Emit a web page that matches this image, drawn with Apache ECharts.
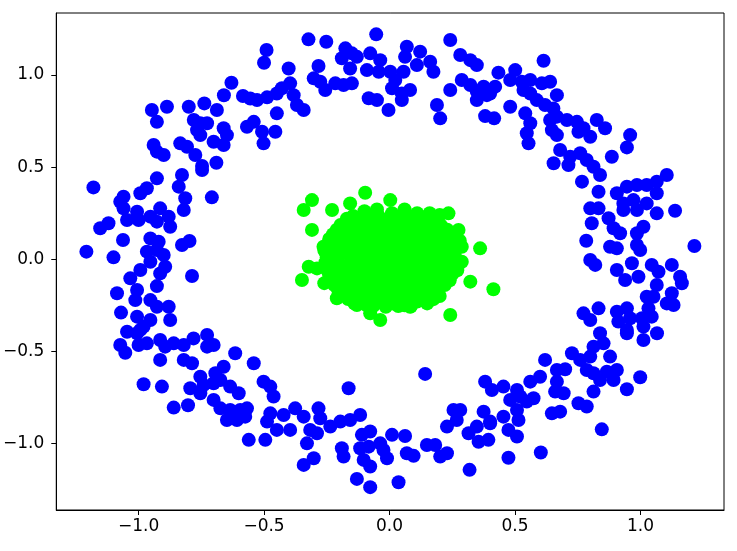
<!DOCTYPE html>
<html>
<head>
<meta charset="utf-8">
<script src="https://cdn.jsdelivr.net/npm/echarts@6/dist/echarts.min.js"></script>
<style>
  html, body { margin: 0; padding: 0; background: #fff; }
  #chart { width: 737px; height: 551px; }
</style>
</head>
<body>
<div id="chart"></div>
<script>
// tick positions on both axes
const xTicks = [-1.0, -0.5, 0.0, 0.5, 1.0];
const yTicks = [-1.0, -0.5, 0.0, 0.5, 1.0];

// outer ring (label 0)
const ringPoints = [
  // top left
  [-0.49,1.136],[-0.50,1.067],[-0.63,0.958],[-0.66,0.89],[-0.584,0.886],[-0.555,0.873],[-0.528,0.864],[-0.488,0.879],
  [-0.449,0.90],[-0.947,0.81],[-0.887,0.828],[-0.927,0.746],[-0.80,0.828],[-0.738,0.846],[-0.688,0.81],[-0.78,0.756],
  [-0.754,0.738],[-0.727,0.738],[-0.767,0.701],[-0.754,0.674],[-0.661,0.711],[-0.648,0.674],[-0.568,0.719],[-0.541,0.746],
  [-0.508,0.692],[-0.455,0.692],[-0.502,0.629],[-0.449,0.792],[-0.94,0.62],[-0.927,0.584],[-0.90,0.566],[-0.834,0.629],
  [-0.807,0.611],[-0.701,0.638],[-0.661,0.62],[-0.774,0.566],[-0.747,0.506],[-0.69,0.524],
  // top
  [-0.323,1.194],[-0.252,1.181],[-0.053,1.221],[0.242,1.19],[-0.402,1.036],[-0.283,1.049],[-0.176,1.145],[-0.19,1.091],
  [-0.15,1.118],[-0.13,1.099],[-0.157,1.036],[-0.077,1.118],[-0.037,1.081],[-0.09,1.027],[-0.043,1.018],[0.069,1.154],
  [0.062,1.099],[0.056,1.018],[0.122,1.127],[0.003,1.018],[0.109,1.054],[0.162,1.072],[0.175,1.018],[0.282,1.109],
  [0.322,1.081],[0.348,1.054],[-0.302,0.982],[-0.276,0.964],[-0.256,0.919],[-0.216,0.955],[-0.183,0.946],[-0.15,0.955],
  [-0.429,0.928],[-0.396,0.955],[-0.382,0.891],[-0.369,0.837],[-0.342,0.81],[-0.083,0.874],[-0.05,0.864],[-0.004,0.81],
  [0.01,0.928],[0.023,0.973],[0.049,0.90],[0.082,0.919],[0.049,0.864],[0.189,0.837],[0.202,0.765],[0.242,0.919],
  [0.288,0.973],[0.322,0.946],[0.348,0.91],[0.375,0.937],[0.348,0.864],[0.388,0.891],[0.381,0.777],
  // top right
  [0.614,1.078],[0.434,1.013],[0.421,0.937],[0.401,0.90],[0.501,1.027],[0.481,0.973],[0.527,0.964],[0.561,0.973],
  [0.534,0.919],[0.561,0.90],[0.607,0.955],[0.64,0.964],[0.667,0.891],[0.481,0.828],[0.417,0.765],[0.541,0.792],
  [0.561,0.738],[0.547,0.684],[0.554,0.629],[0.587,0.864],[0.62,0.837],[0.653,0.819],[0.64,0.756],[0.667,0.774],
  [0.647,0.701],[0.667,0.674],[0.707,0.756],[0.747,0.746],[0.753,0.692],[0.773,0.711],[0.826,0.756],[0.859,0.711],
  [0.80,0.665],[0.959,0.674],[0.946,0.607],[0.886,0.556],[0.68,0.593],[0.654,0.521],[0.72,0.556],[0.713,0.511],
  [0.76,0.575],[0.786,0.539],[0.813,0.502],
  // left
  [-1.18,0.39],[-0.927,0.439],[-0.827,0.457],[-0.747,0.484],[-0.84,0.394],[-0.814,0.331],[-0.82,0.267],[-0.708,0.336],
  [-1.06,0.339],[-1.073,0.312],[-1.06,0.276],[-0.993,0.358],[-0.967,0.385],[-1.046,0.213],[-1.006,0.258],[-1.0,0.213],
  [-0.953,0.231],[-0.914,0.276],[-0.927,0.204],[-0.88,0.231],[-0.874,0.176],[-1.153,0.168],[-1.12,0.195],[-1.062,0.104],
  [-0.953,0.113],[-0.92,0.095],[-0.827,0.077],[-0.797,0.099],[-1.208,0.041],[-1.10,0.01],[-0.967,0.041],[-0.927,0.05],
  [-0.90,0.023],[-0.953,-0.014],[-0.894,-0.041],[-0.993,-0.059],[-1.033,-0.104],[-0.914,-0.077],[-0.927,-0.146],[-0.787,-0.091],
  [-1.086,-0.185],[-1.006,-0.167],[-1.013,-0.222],[-0.953,-0.222],[-0.927,-0.258],[-0.88,-0.258],[-0.874,-0.33],[-1.07,-0.29],
  [-1.006,-0.312],[-0.98,-0.366],[-0.953,-0.33],
  // bottom left
  [-1.046,-0.394],[-1.006,-0.402],[-0.993,-0.384],[-1.073,-0.466],[-1.053,-0.508],[-1.0,-0.466],[-0.967,-0.457],[-0.914,-0.439],
  [-0.894,-0.475],[-0.914,-0.547],[-0.86,-0.457],[-0.82,-0.466],[-0.781,-0.43],[-0.727,-0.411],[-0.727,-0.475],[-0.701,-0.466],
  [-0.82,-0.547],[-0.787,-0.565],[-0.615,-0.511],[-0.541,-0.565],[-0.754,-0.638],[-0.794,-0.701],[-0.754,-0.728],[-0.741,-0.683],
  [-0.694,-0.619],[-0.661,-0.584],[-0.701,-0.674],[-0.674,-0.656],[-0.98,-0.679],[-0.907,-0.692],[-0.86,-0.806],[-0.803,-0.793],
  [-0.635,-0.692],[-0.601,-0.728],[-0.701,-0.764],[-0.674,-0.81],[-0.635,-0.819],[-0.595,-0.819],[-0.568,-0.81],[-0.648,-0.873],
  [-0.608,-0.873],[-0.575,-0.855],[-0.502,-0.665],[-0.475,-0.692],[-0.462,-0.746],[-0.475,-0.837],[-0.488,-0.882],[-0.449,-0.927],
  [-0.495,-0.981],[-0.561,-0.981],
  // bottom
  [-0.163,-0.701],[0.142,-0.623],[-0.422,-0.846],[-0.376,-0.81],[-0.342,-0.855],[-0.396,-0.927],[-0.283,-0.81],[-0.276,-0.864],
  [-0.316,-0.927],[-0.289,-0.945],[-0.329,-1.0],[-0.302,-1.081],[-0.342,-1.117],[-0.236,-0.909],[-0.196,-0.882],[-0.157,-0.873],
  [-0.117,-0.846],[-0.19,-1.027],[-0.183,-1.072],[-0.11,-0.954],[-0.077,-0.936],[-0.117,-1.027],[-0.083,-1.018],[-0.103,-1.09],
  [-0.077,-1.126],[-0.13,-1.193],[-0.077,-1.238],[-0.037,-1.0],[0.01,-0.954],[-0.01,-1.081],[-0.024,-1.036],[0.062,-0.96],
  [0.036,-1.211],[0.069,-1.054],[0.096,-1.068],[0.149,-1.009],[0.182,-1.009],[0.202,-1.072],[0.229,-1.054],[0.229,-0.909],
  [0.255,-0.819],[0.282,-0.819],[0.268,-0.873],[0.319,-1.144],[0.381,-0.665],[0.408,-0.71],[0.375,-0.828],[0.401,-0.882],
  [0.348,-0.909],[0.315,-0.945],[0.355,-0.991],[0.394,-0.981],
  // bottom right
  [0.839,-0.402],[0.853,-0.457],[0.813,-0.475],[0.946,-0.402],[1.012,-0.439],[1.066,-0.402],[0.727,-0.511],[0.76,-0.547],
  [0.80,-0.529],[0.786,-0.602],[0.813,-0.619],[0.879,-0.529],[0.866,-0.611],[0.906,-0.602],[0.893,-0.656],[0.839,-0.656],
  [0.813,-0.719],[0.946,-0.706],[0.999,-0.641],[0.62,-0.547],[0.667,-0.602],[0.70,-0.598],[0.667,-0.665],[0.66,-0.719],
  [0.694,-0.728],[0.647,-0.837],[0.68,-0.828],[0.753,-0.782],[0.786,-0.80],[0.846,-0.924],[0.60,-0.638],[0.561,-0.665],
  [0.574,-0.755],[0.547,-0.773],[0.454,-0.692],[0.508,-0.71],[0.521,-0.746],[0.481,-0.764],[0.508,-0.819],[0.454,-0.855],
  [0.514,-0.873],[0.474,-0.927],[0.508,-0.963],[0.401,-0.891],[0.474,-1.078],[0.603,-1.05],
  // right
  [0.767,0.421],[0.833,0.366],[0.839,0.457],[0.906,0.358],[0.946,0.394],[0.986,0.403],[1.025,0.403],[1.065,0.358],
  [1.105,0.457],[1.065,0.421],[0.932,0.303],[0.972,0.321],[1.025,0.303],[0.932,0.267],[0.986,0.267],[1.065,0.249],
  [1.012,0.176],[0.986,0.141],[1.138,0.263],[0.80,0.276],[0.833,0.276],[0.873,0.222],[0.893,0.168],[0.919,0.141],
  [0.806,0.195],[0.784,0.10],[0.879,0.068],[0.906,0.059],[0.986,0.077],[0.999,0.05],[1.215,0.072],[0.80,-0.004],
  [0.82,-0.031],[0.906,-0.059],[0.939,-0.113],[0.966,-0.022],[0.992,-0.095],[1.045,-0.031],[1.072,-0.068],[1.125,-0.031],
  [1.158,-0.095],[1.165,-0.131],[1.065,-0.14],[1.025,-0.204],[1.052,-0.204],[1.125,-0.185],[1.105,-0.24],[1.132,-0.249],
  [1.032,-0.267],[1.045,-0.312],[1.006,-0.321],[1.012,-0.366],[0.773,-0.294],[0.833,-0.267],[0.80,-0.33],[0.906,-0.285],
  [0.946,-0.267],[0.912,-0.339],[0.946,-0.384],[0.959,-0.321]
];

// inner blob (label 1)
const corePoints = [
  // stray points around the blob
  [-0.097,0.361],[-0.309,0.321],[-0.342,0.267],[-0.309,0.159],[-0.229,0.267],[-0.157,0.303],[0.003,0.321],[0.235,0.249],
  [0.275,0.159],[0.288,0.068],[0.361,0.059],[0.288,-0.014],[0.322,-0.122],[0.414,-0.163],[0.242,-0.303],[-0.037,-0.33],
  [-0.077,-0.294],[-0.349,-0.113],[-0.322,-0.041],[-0.289,-0.05],[-0.21,-0.212],[-0.13,-0.249],[0.082,-0.258],[0.149,-0.204],
  [-0.263,0.068],[0.16,0.25],[0.20,0.24],[0.28,0.10],[0.27,-0.06],[-0.26,-0.13],
  // dense centre
  [-0.10,0.26],[-0.05,0.27],[0.01,0.25],[0.06,0.27],[0.11,0.25],
  [-0.145,0.235],[-0.095,0.232],[-0.045,0.238],[0.005,0.231],[0.055,0.236],[0.105,0.233],[0.155,0.230],
  [-0.17,0.22],[-0.12,0.20],[-0.07,0.22],[-0.02,0.21],[0.03,0.20],[0.08,0.22],[0.13,0.21],[0.18,0.20],
  [-0.195,0.186],[-0.145,0.183],[-0.095,0.188],[-0.045,0.184],[0.005,0.187],[0.055,0.182],[0.105,0.186],[0.155,0.185],[0.205,0.183],
  [-0.21,0.16],[-0.16,0.17],[-0.11,0.15],[-0.06,0.16],[-0.01,0.17],[0.04,0.15],[0.09,0.16],[0.14,0.17],[0.19,0.15],[0.23,0.16],
  [-0.225,0.136],[-0.175,0.134],[-0.125,0.137],[-0.075,0.133],[-0.025,0.136],[0.025,0.134],[0.075,0.138],[0.125,0.135],[0.175,0.133],[0.225,0.137],
  [-0.24,0.11],[-0.19,0.12],[-0.14,0.10],[-0.09,0.11],[-0.04,0.12],[0.01,0.10],[0.06,0.11],[0.11,0.12],[0.16,0.10],[0.21,0.11],[0.25,0.12],
  [-0.245,0.086],[-0.195,0.083],[-0.145,0.087],[-0.095,0.084],[-0.045,0.086],[0.005,0.083],[0.055,0.087],[0.105,0.085],[0.155,0.084],[0.205,0.086],[0.255,0.083],
  [-0.26,0.05],[-0.21,0.06],[-0.16,0.07],[-0.11,0.05],[-0.06,0.06],[-0.01,0.07],[0.04,0.05],[0.09,0.06],[0.14,0.07],[0.19,0.05],[0.24,0.06],
  [-0.255,0.036],[-0.205,0.033],[-0.155,0.037],[-0.105,0.034],[-0.055,0.035],[-0.005,0.032],[0.045,0.036],[0.095,0.034],[0.145,0.037],[0.195,0.033],[0.245,0.035],
  [-0.25,0.01],[-0.20,0.02],[-0.15,0.00],[-0.10,0.01],[-0.05,0.02],[0.00,0.00],[0.05,0.01],[0.10,0.02],[0.15,0.00],[0.20,0.01],[0.26,0.02],
  [-0.255,-0.016],[-0.205,-0.013],[-0.155,-0.017],[-0.105,-0.014],[-0.055,-0.016],[-0.005,-0.012],[0.045,-0.015],[0.095,-0.017],[0.145,-0.013],[0.195,-0.016],[0.245,-0.014],
  [-0.26,-0.04],[-0.21,-0.03],[-0.16,-0.05],[-0.11,-0.04],[-0.06,-0.03],[-0.01,-0.05],[0.04,-0.04],[0.09,-0.03],[0.14,-0.05],[0.19,-0.04],[0.24,-0.03],
  [-0.245,-0.066],[-0.195,-0.063],[-0.145,-0.067],[-0.095,-0.064],[-0.045,-0.066],[0.005,-0.062],[0.055,-0.065],[0.105,-0.067],[0.155,-0.063],[0.205,-0.066],[0.25,-0.064],
  [-0.24,-0.09],[-0.19,-0.08],[-0.14,-0.10],[-0.09,-0.09],[-0.04,-0.08],[0.01,-0.10],[0.06,-0.09],[0.11,-0.08],[0.16,-0.10],[0.21,-0.09],[0.25,-0.08],
  [-0.235,-0.116],[-0.185,-0.113],[-0.135,-0.117],[-0.085,-0.114],[-0.035,-0.116],[0.015,-0.112],[0.065,-0.115],[0.115,-0.117],[0.165,-0.113],[0.215,-0.116],[0.24,-0.114],
  [-0.22,-0.14],[-0.17,-0.13],[-0.12,-0.15],[-0.07,-0.14],[-0.02,-0.13],[0.03,-0.15],[0.08,-0.14],[0.13,-0.13],[0.18,-0.15],[0.22,-0.14],
  [-0.205,-0.166],[-0.155,-0.163],[-0.105,-0.167],[-0.055,-0.164],[-0.005,-0.166],[0.045,-0.162],[0.095,-0.165],[0.145,-0.167],[0.195,-0.163],
  [-0.19,-0.19],[-0.14,-0.18],[-0.09,-0.20],[-0.04,-0.19],[0.01,-0.18],[0.06,-0.20],[0.11,-0.19],[0.16,-0.18],[0.20,-0.20],
  [-0.165,-0.216],[-0.115,-0.213],[-0.065,-0.217],[-0.015,-0.214],[0.035,-0.216],[0.085,-0.212],[0.135,-0.215],[0.175,-0.217],
  [-0.14,-0.24],[-0.09,-0.25],[-0.04,-0.23],[0.01,-0.24],[0.06,-0.25],[0.11,-0.23],[0.15,-0.24],
  [-0.065,-0.255],[-0.015,-0.258],[0.035,-0.254],[0.085,-0.256]
];

const chart = echarts.init(document.getElementById('chart'));

// matplotlib style tick labels: one decimal, real minus sign
const fmt = v => v.toFixed(1).replace('-', '\u2212');

const axisCommon = {
  type: 'value',
  splitLine: { show: false },
  axisLine: { onZero: false, lineStyle: { color: '#000', width: 1 } },
  axisTick: { inside: false, length: 5, lineStyle: { color: '#000', width: 1 } },
  axisLabel: { color: '#000', fontSize: 17, fontFamily: 'DejaVu Sans', formatter: fmt }
};

const option = {
  animation: false,
  backgroundColor: '#fff',
  grid: {
    left: 56, right: 13, top: 13, bottom: 41,
    show: true, borderColor: '#000', borderWidth: 1
  },
  xAxis: {
    ...axisCommon,
    min: -1.328, max: 1.333,
    axisTick: { ...axisCommon.axisTick, customValues: xTicks },
    axisLabel: { ...axisCommon.axisLabel, customValues: xTicks, margin: 8 }
  },
  yAxis: {
    ...axisCommon,
    min: -1.362, max: 1.337,
    axisTick: { ...axisCommon.axisTick, customValues: yTicks },
    axisLabel: { ...axisCommon.axisLabel, customValues: yTicks, margin: 12 }
  },
  series: [
    {
      type: 'scatter',
      symbol: 'circle',
      symbolSize: 14,
      itemStyle: { color: '#0000ff', opacity: 1 },
      data: ringPoints
    },
    {
      type: 'scatter',
      symbol: 'circle',
      symbolSize: 14,
      itemStyle: { color: '#00ff00', opacity: 1 },
      data: corePoints
    }
  ]
};

chart.setOption(option);
</script>
</body>
</html>
